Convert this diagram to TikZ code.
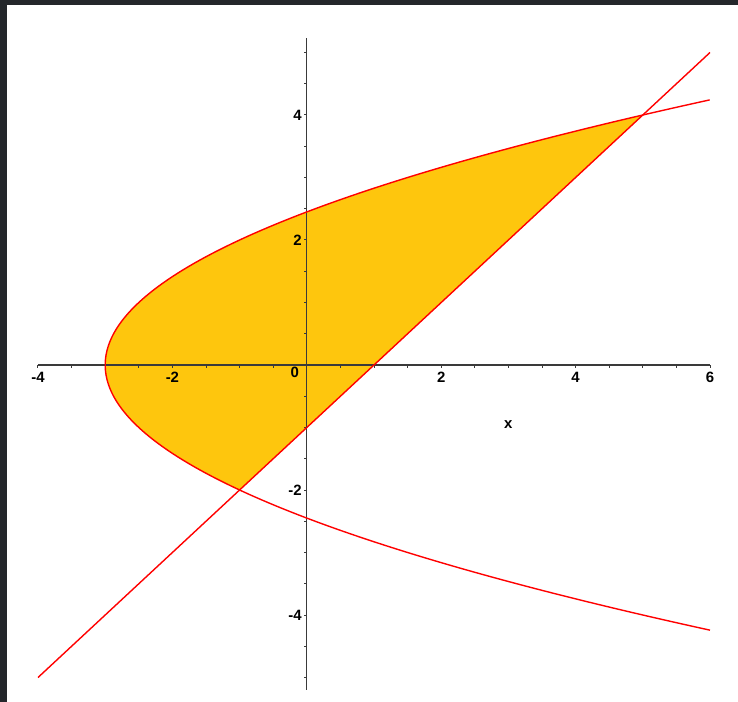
\documentclass[tikz,border=0pt]{standalone}
\usepackage{fontspec}
\setmainfont{Liberation Sans}
\definecolor{gold}{HTML}{FEC60D}
\definecolor{framecol}{HTML}{24272B}
\definecolor{axiscol}{HTML}{3A3A3A}
\begin{document}
\begin{tikzpicture}[x=67.2bp,y=62.5bp,
  curve/.style={red, line width=1.4bp},
  ax/.style={axiscol, line width=1.2bp},
  tick/.style={axiscol, line width=1bp},
  lab/.style={font=\bfseries\fontsize{15}{15}\selectfont, inner sep=0pt}]
\useasboundingbox (-4.5655,5.84) rectangle (6.4167,-5.392);
\fill[white] (-4.5655,5.84) rectangle (6.4167,-5.392);
% dark frame (top and left)
\fill[framecol] (-4.5655,5.84) rectangle (6.4167,5.76);
\fill[framecol] (-4.5655,5.84) rectangle (-4.4613,-5.392);
% shaded region
\fill[gold] plot[domain=4:-2, samples=120, variable=\t] ({\t*\t/2-3},\t) -- cycle;
% axes
\draw[ax] (-4,0) -- (6,0);
\draw[ax] (0,5.23) -- (0,-5.2);
\foreach \i in {-4,-3.5,...,6.1} \draw[tick] (\i,0) -- ++(0,-3bp);
\foreach \j in {-5,-4.5,...,5.1} \draw[tick] (0,\j) -- ++(-3bp,0);
% curves
\draw[curve] plot[domain=-4.2426:4.2426, samples=200, variable=\t] ({\t*\t/2-3},\t);
\draw[curve] (-4,-5) -- (6,5);
% x labels
\node[lab] (lxm4) at ([yshift=-12bp]-4,0) {-4};
\node[lab] (lxm2) at ([yshift=-12bp]-2,0) {-2};
\node[lab] (lx0) at ([xshift=-12bp,yshift=-7bp]0,0) {0};
\node[lab] (lx2) at ([yshift=-12bp]2,0) {2};
\node[lab] (lx4) at ([yshift=-12bp]4,0) {4};
\node[lab] (lx6) at ([yshift=-12bp]6,0) {6};
% y labels
\node[lab, anchor=east] (ly4) at ([xshift=-5bp]0,4) {4};
\node[lab, anchor=east] (ly2) at ([xshift=-5bp]0,2) {2};
\node[lab, anchor=east] (lym2) at ([xshift=-5bp]0,-2) {-2};
\node[lab, anchor=east] (lym4) at ([xshift=-5bp]0,-4) {-4};
% axis name
\node[lab] (xname) at (3,-0.96) {x};
\end{tikzpicture}
\end{document}
